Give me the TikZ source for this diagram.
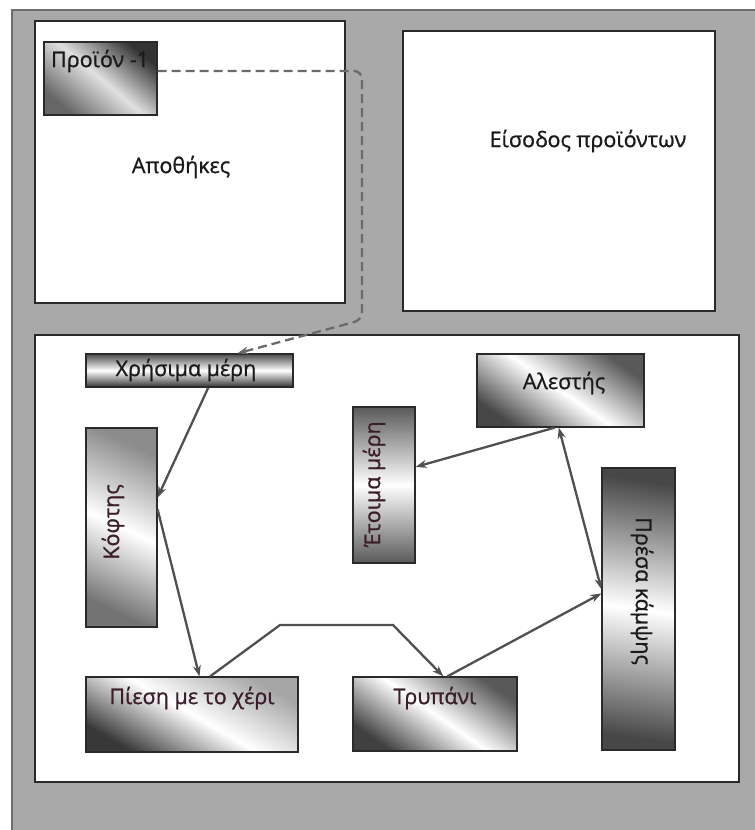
\documentclass[tikz,border=0pt]{standalone}
\usepackage{fontspec}
\setmainfont{Open Sans}[FakeBold=0.9]
\usetikzlibrary{arrows.meta,calc}

\definecolor{panelgray}{HTML}{A9A9A9}
\definecolor{paneledge}{HTML}{6E6E6E}
\definecolor{boxedge}{HTML}{2A2A2A}
\definecolor{wire}{HTML}{505050}
\definecolor{ink}{HTML}{1A1A1A}
\definecolor{wine}{HTML}{3A1E2C}

\tikzset{
  area/.style={draw=boxedge, line width=1.4pt, fill=white, inner sep=0pt},
  % shaded machine box: end colour A, end colour B, angle of the shading axis
  unit/.style n args={3}{draw=boxedge, line width=1.3pt, inner sep=0pt,
               left color=#1, right color=#2, middle color=white, shading angle=#3},
  lbl/.style={font=\fontsize{21.5}{23}\selectfont, text=ink, inner sep=0pt},
  wlbl/.style={lbl, text=wine},
  flow/.style={draw=wire, line width=2.3pt, -{Stealth[length=11pt,width=8pt]}},
  twoway/.style={flow, {Stealth[length=11pt,width=8pt]}-{Stealth[length=11pt,width=8pt]}},
  dashflow/.style={flow, draw=wire!85, dash pattern=on 9pt off 5pt, rounded corners=8pt}
}

\begin{document}
\begin{tikzpicture}[x=1pt, y=-1pt]
  % page and grey panel
  \path[use as bounding box, fill=white] (0,0) rectangle (755,830);
  \fill[panelgray] (12,10) rectangle (755,830);
  \draw[paneledge, line width=1.5pt] (12,830) -- (12,10) -- (755,10);

  % the three areas
  \node[area, minimum width=310pt, minimum height=282pt] (storage) at (190,162) {};
  \node[area, minimum width=312pt, minimum height=280pt] (intake)  at (559,171) {};
  \node[area, minimum width=704pt, minimum height=447pt] (floor)   at (387,558.5) {};

  \node[lbl] (storagelbl) at (181,167) {Αποθήκες};
  \node[lbl] (intakelbl)  at (588,141) {Είσοδος προϊόντων};

  % product in storage
  \node[unit={black!80}{black!60}{-40}, middle color=black!12,
        minimum width=113pt, minimum height=73pt] (product) at (100.5,78.5) {};
  \node[lbl] (productlbl) at (100,61) {Προϊόν -1};

  % machines on the floor
  \node[unit={black!70}{black!80}{0}, minimum width=207pt, minimum height=33pt] (useful) at (189.5,370.5) {};
  \node[unit={black!45}{black!55}{-25}, minimum width=71pt, minimum height=199pt] (cutter) at (121.5,527.5) {};
  \node[unit={black!65}{black!65}{0}, minimum width=62pt, minimum height=156pt] (ready) at (384,485) {};
  \node[unit={black!65}{black!72}{-35}, minimum width=167pt, minimum height=73pt] (grinder) at (560.5,390.5) {};
  \node[unit={black!72}{black!72}{-8}, minimum width=73pt, minimum height=282pt] (press) at (638.5,609) {};
  \node[unit={black!35}{black!78}{-30}, minimum width=212pt, minimum height=75pt] (hand) at (192,714.5) {};
  \node[unit={black!65}{black!75}{-35}, minimum width=164pt, minimum height=74pt] (drill) at (435,714) {};

  \node[lbl]  (usefullbl)  at (186,370) {Χρήσιμα μέρη};
  \node[wlbl] (cutterlbl)  at (113,522) {\rotatebox{90}{Κόφτης}};
  \node[wlbl] (readylbl)   at (374,484) {\rotatebox{90}{Έτοιμα μέρη}};
  \node[lbl]  (grinderlbl) at (564,383) {Αλεστής};
  \node[lbl]  (presslbl)   at (642,591) {\rotatebox{-90}{Πρέσα κάμψης}};
  \node[wlbl] (handlbl)    at (192,698) {Πίεση με το χέρι};
  \node[wlbl] (drilllbl)   at (435,698) {Τρυπάνι};

  % bends of the routed connectors
  \coordinate (dashA) at (362,71);
  \coordinate (dashB) at (362,320);
  \coordinate (stepA) at (280,625);
  \coordinate (stepB) at (393,625);

  % connectors
  \draw[dashflow] ($(product.north east)!0.40!(product.south east)$)
      -- (dashA) -- (dashB) -- ($(useful.north west)!0.73!(useful.north east)$);
  \draw[flow] ($(useful.south west)!0.59!(useful.south east)$)
      -- ($(cutter.north east)!0.35!(cutter.south east)$);
  \draw[flow] ($(cutter.north east)!0.41!(cutter.south east)$)
      -- ($(hand.north west)!0.535!(hand.north east)$);
  \draw[flow] ($(hand.north west)!0.585!(hand.north east)$)
      -- (stepA) -- (stepB) -- ($(drill.north west)!0.55!(drill.north east)$);
  \draw[flow] ($(drill.north west)!0.575!(drill.north east)$)
      -- ($(press.north west)!0.445!(press.south west)$);
  \draw[twoway] ($(grinder.south west)!0.49!(grinder.south east)$)
      -- ($(press.north west)!0.43!(press.south west)$);
  \draw[flow] ($(grinder.south west)!0.465!(grinder.south east)$)
      -- ($(ready.north east)!0.385!(ready.south east)$);
\end{tikzpicture}
\end{document}
